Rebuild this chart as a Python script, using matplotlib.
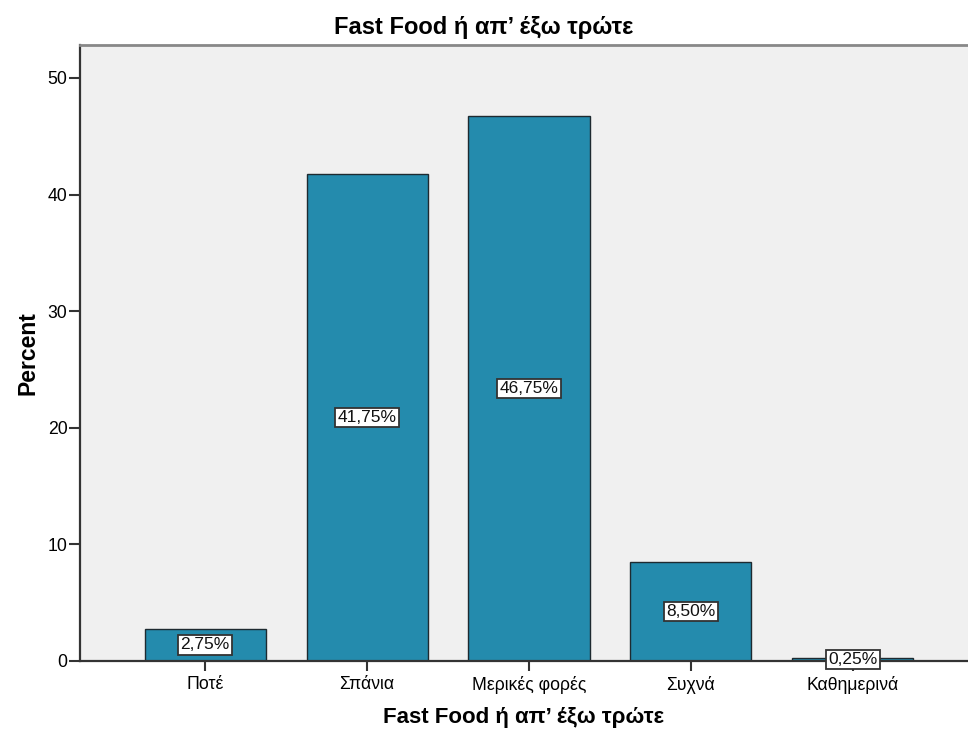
import matplotlib.pyplot as plt
import numpy as np

categories = ['Ποτέ', 'Σπάνια', 'Μερικές φορές', 'Συχνά', 'Καθημερινά']
percent = [2.75, 41.75, 46.75, 8.50, 0.25]
yticks = [0, 10, 20, 30, 40, 50]

plt.rcParams['font.family'] = ['Liberation Sans', 'DejaVu Sans']

fig = plt.figure(figsize=(9.68, 7.29), dpi=100)
ax = fig.add_axes([0.0826, 0.0933, 0.9174, 0.845])
ax.set_facecolor('#f0f0f0')

x = np.arange(len(categories))
ax.bar(x, percent, width=0.747, color='#248bad', edgecolor='#1e2a30', linewidth=1.0, zorder=2)

# value boxes sit at half the bar height
for xi, v in zip(x, percent):
    ax.text(xi, v / 2, ('%.2f%%' % v).replace('.', ','), ha='center', va='center',
            fontsize=12.5, color='#111111', zorder=3,
            bbox=dict(boxstyle='square,pad=0.12', facecolor='white', edgecolor='#333333', linewidth=1.3))

ax.set_xlim(-0.772, 4.71)
ax.set_ylim(0, 52.83)
ax.set_xticks(x)
ax.set_xticklabels(categories, fontsize=12.7)
ax.set_yticks(yticks)
ax.set_yticklabels([str(t) for t in yticks], fontsize=12.7)
ax.tick_params(axis='x', direction='out', length=7, width=1.5, color='#333333', pad=4)
ax.tick_params(axis='y', direction='out', length=8, width=1.5, color='#333333', pad=1)

for side in ['left', 'bottom']:
    ax.spines[side].set_color('#333333')
    ax.spines[side].set_linewidth(1.6)
ax.spines['top'].set_color('#888888')
ax.spines['top'].set_linewidth(2)
ax.spines['right'].set_visible(False)

fig.text(0.5, 0.962, 'Fast Food ή απ’ έξω τρώτε', ha='center', va='center',
         fontsize=17, fontweight='bold')
ax.set_xlabel('Fast Food ή απ’ έξω τρώτε', fontsize=16, fontweight='bold', labelpad=9)
ax.set_ylabel('Percent', fontsize=16.5, fontweight='bold', labelpad=6)

fig.savefig('out.png', dpi=100)
